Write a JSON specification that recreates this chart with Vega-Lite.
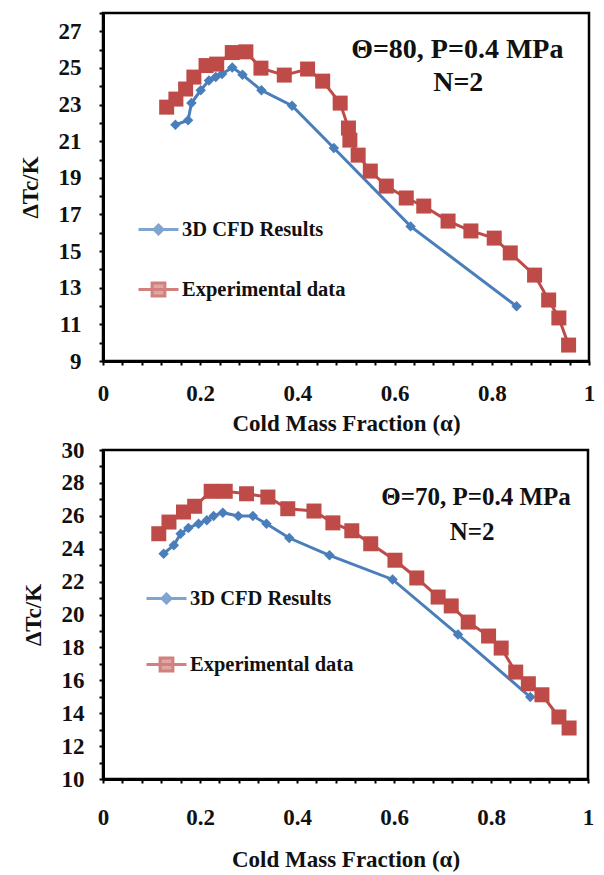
{
  "$schema": "https://vega.github.io/schema/vega-lite/v6.json",
  "background": "white",
  "padding": {"left": 17, "top": 10, "right": 12, "bottom": 5},
  "spacing": 0,
  "config": {
    "view": {"stroke": "black", "strokeWidth": 2.5},
    "font": "Liberation Serif",
    "axis": {
      "grid": false,
      "domain": true,
      "domainColor": "#000000",
      "domainWidth": 3,
      "ticks": true,
      "offset": 0,
      "tickSize": 4,
      "tickColor": "#000000",
      "tickOpacity": 1,
      "tickWidth": 2,
      "labelFont": "Liberation Serif",
      "labelFontWeight": "bold",
      "labelColor": "#111111",
      "titleFont": "Liberation Serif",
      "titleFontWeight": "bold",
      "titleFontSize": 23,
      "titleColor": "#111111",
      "labelFlush": false,
      "labelOverlap": false
    },
    "legend": {
      "orient": "none",
      "labelFont": "Liberation Serif",
      "labelFontWeight": "bold",
      "labelFontSize": 20.5,
      "labelColor": "#111111",
      "labelLimit": 300,
      "symbolSize": 1600,
      "symbolStrokeWidth": 3,
      "padding": 0,
      "labelOffset": 2
    }
  },
  "datasets": {
    "top": [
      {"a": 0.149, "dt": 21.9, "series": "3D CFD Results"},
      {"a": 0.175, "dt": 22.14, "series": "3D CFD Results"},
      {"a": 0.182, "dt": 23.08, "series": "3D CFD Results"},
      {"a": 0.201, "dt": 23.78, "series": "3D CFD Results"},
      {"a": 0.218, "dt": 24.32, "series": "3D CFD Results"},
      {"a": 0.232, "dt": 24.5, "series": "3D CFD Results"},
      {"a": 0.245, "dt": 24.67, "series": "3D CFD Results"},
      {"a": 0.266, "dt": 25.03, "series": "3D CFD Results"},
      {"a": 0.287, "dt": 24.63, "series": "3D CFD Results"},
      {"a": 0.326, "dt": 23.78, "series": "3D CFD Results"},
      {"a": 0.389, "dt": 22.94, "series": "3D CFD Results"},
      {"a": 0.475, "dt": 20.63, "series": "3D CFD Results"},
      {"a": 0.633, "dt": 16.35, "series": "3D CFD Results"},
      {"a": 0.851, "dt": 11.99, "series": "3D CFD Results"},
      {"a": 0.131, "dt": 22.86, "series": "Experimental data"},
      {"a": 0.150, "dt": 23.3, "series": "Experimental data"},
      {"a": 0.170, "dt": 23.85, "series": "Experimental data"},
      {"a": 0.187, "dt": 24.5, "series": "Experimental data"},
      {"a": 0.212, "dt": 25.13, "series": "Experimental data"},
      {"a": 0.234, "dt": 25.21, "series": "Experimental data"},
      {"a": 0.266, "dt": 25.84, "series": "Experimental data"},
      {"a": 0.294, "dt": 25.88, "series": "Experimental data"},
      {"a": 0.325, "dt": 24.99, "series": "Experimental data"},
      {"a": 0.373, "dt": 24.61, "series": "Experimental data"},
      {"a": 0.421, "dt": 24.94, "series": "Experimental data"},
      {"a": 0.452, "dt": 24.28, "series": "Experimental data"},
      {"a": 0.488, "dt": 23.08, "series": "Experimental data"},
      {"a": 0.505, "dt": 21.72, "series": "Experimental data"},
      {"a": 0.508, "dt": 21.06, "series": "Experimental data"},
      {"a": 0.525, "dt": 20.24, "series": "Experimental data"},
      {"a": 0.550, "dt": 19.37, "series": "Experimental data"},
      {"a": 0.583, "dt": 18.55, "series": "Experimental data"},
      {"a": 0.624, "dt": 17.9, "series": "Experimental data"},
      {"a": 0.660, "dt": 17.46, "series": "Experimental data"},
      {"a": 0.710, "dt": 16.64, "series": "Experimental data"},
      {"a": 0.757, "dt": 16.1, "series": "Experimental data"},
      {"a": 0.805, "dt": 15.71, "series": "Experimental data"},
      {"a": 0.838, "dt": 14.9, "series": "Experimental data"},
      {"a": 0.888, "dt": 13.69, "series": "Experimental data"},
      {"a": 0.917, "dt": 12.33, "series": "Experimental data"},
      {"a": 0.938, "dt": 11.35, "series": "Experimental data"},
      {"a": 0.958, "dt": 9.87, "series": "Experimental data"}
    ],
    "bottom": [
      {"a": 0.125, "dt": 23.7, "series": "3D CFD Results"},
      {"a": 0.146, "dt": 24.21, "series": "3D CFD Results"},
      {"a": 0.160, "dt": 24.91, "series": "3D CFD Results"},
      {"a": 0.176, "dt": 25.26, "series": "3D CFD Results"},
      {"a": 0.197, "dt": 25.52, "series": "3D CFD Results"},
      {"a": 0.214, "dt": 25.73, "series": "3D CFD Results"},
      {"a": 0.228, "dt": 25.99, "series": "3D CFD Results"},
      {"a": 0.247, "dt": 26.19, "series": "3D CFD Results"},
      {"a": 0.279, "dt": 25.99, "series": "3D CFD Results"},
      {"a": 0.309, "dt": 25.99, "series": "3D CFD Results"},
      {"a": 0.337, "dt": 25.52, "series": "3D CFD Results"},
      {"a": 0.384, "dt": 24.65, "series": "3D CFD Results"},
      {"a": 0.467, "dt": 23.6, "series": "3D CFD Results"},
      {"a": 0.597, "dt": 22.13, "series": "3D CFD Results"},
      {"a": 0.732, "dt": 18.78, "series": "3D CFD Results"},
      {"a": 0.881, "dt": 14.98, "series": "3D CFD Results"},
      {"a": 0.115, "dt": 24.91, "series": "Experimental data"},
      {"a": 0.136, "dt": 25.62, "series": "Experimental data"},
      {"a": 0.166, "dt": 26.23, "series": "Experimental data"},
      {"a": 0.189, "dt": 26.58, "series": "Experimental data"},
      {"a": 0.223, "dt": 27.49, "series": "Experimental data"},
      {"a": 0.252, "dt": 27.49, "series": "Experimental data"},
      {"a": 0.296, "dt": 27.34, "series": "Experimental data"},
      {"a": 0.340, "dt": 27.14, "series": "Experimental data"},
      {"a": 0.381, "dt": 26.43, "series": "Experimental data"},
      {"a": 0.435, "dt": 26.29, "series": "Experimental data"},
      {"a": 0.474, "dt": 25.57, "series": "Experimental data"},
      {"a": 0.513, "dt": 25.09, "series": "Experimental data"},
      {"a": 0.552, "dt": 24.3, "series": "Experimental data"},
      {"a": 0.602, "dt": 23.3, "series": "Experimental data"},
      {"a": 0.647, "dt": 22.22, "series": "Experimental data"},
      {"a": 0.691, "dt": 21.06, "series": "Experimental data"},
      {"a": 0.718, "dt": 20.52, "series": "Experimental data"},
      {"a": 0.753, "dt": 19.54, "series": "Experimental data"},
      {"a": 0.795, "dt": 18.69, "series": "Experimental data"},
      {"a": 0.821, "dt": 17.96, "series": "Experimental data"},
      {"a": 0.851, "dt": 16.5, "series": "Experimental data"},
      {"a": 0.877, "dt": 15.79, "series": "Experimental data"},
      {"a": 0.905, "dt": 15.12, "series": "Experimental data"},
      {"a": 0.940, "dt": 13.77, "series": "Experimental data"},
      {"a": 0.961, "dt": 13.1, "series": "Experimental data"}
    ]
  },
  "vconcat": [
    {
      "width": 486,
      "height": 348,
      "data": {"name": "top"},
      "layer": [
        {
          "mark": {"type": "line", "strokeWidth": 3},
          "encoding": {
            "x": {
              "field": "a", "type": "quantitative",
              "scale": {"domain": [0, 1], "nice": false},
              "axis": {
                "title": "Cold Mass Fraction (α)",
                "values": [0, 0.04, 0.08, 0.12, 0.16, 0.2, 0.24, 0.28, 0.32, 0.36, 0.4, 0.44, 0.48, 0.52, 0.56, 0.6, 0.64, 0.68, 0.72, 0.76, 0.8, 0.84, 0.88, 0.92, 0.96, 1],
                "tickCount": 30,
                "format": ".1~f",
                "labelOverlap": false,
                "labelExpr": "abs(datum.value*5 - round(datum.value*5)) < 0.001 ? datum.label : ''",
                "labelFontSize": {"condition": {"test": "abs(datum.value*5 - round(datum.value*5)) < 0.001", "value": 23}, "value": 0},
                "labelPadding": 17,
                "titlePadding": 7
              }
            },
            "y": {
              "field": "dt", "type": "quantitative",
              "scale": {"domain": [9, 28], "nice": false, "zero": false},
              "axis": {
                "title": "ΔTc/K",
                "tickCount": 95,
                "format": "d",
                "labelOverlap": false,
                "labelExpr": "round(datum.value*5) % 10 == 5 ? datum.label : ''",
                "labelFontSize": {"condition": {"test": "round(datum.value*5) % 10 == 5", "value": 23}, "value": 0},
                "labelPadding": 18,
                "titlePadding": 16
              }
            },
            "color": {
              "field": "series", "type": "nominal",
              "scale": {"domain": ["3D CFD Results", "Experimental data"], "range": ["#4a7ebb", "#be4b48"]},
              "legend": null
            }
          }
        },
        {
          "mark": {"type": "point", "filled": true, "opacity": 1},
          "encoding": {
            "x": {"field": "a", "type": "quantitative"},
            "y": {"field": "dt", "type": "quantitative"},
            "color": {"field": "series", "type": "nominal", "legend": null},
            "shape": {
              "field": "series", "type": "nominal",
              "scale": {"domain": ["3D CFD Results", "Experimental data"], "range": ["diamond", "square"]},
              "legend": null
            },
            "size": {
              "field": "series", "type": "nominal",
              "scale": {"domain": ["3D CFD Results", "Experimental data"], "range": [110, 225]},
              "legend": null
            }
          }
        },
        {
          "transform": [{"filter": "false"}],
          "mark": {"type": "point", "filled": true},
          "encoding": {
            "x": {"field": "a", "type": "quantitative"},
            "y": {"field": "dt", "type": "quantitative"},
            "fill": {
              "field": "series", "type": "nominal",
              "scale": {"domain": ["3D CFD Results", "Experimental data"], "range": ["#4a7ebb", "#be4b48"]},
              "legend": {"title": null, "legendX": 34, "legendY": 195, "rowPadding": 28}
            },
            "stroke": {
              "field": "series", "type": "nominal",
              "scale": {"domain": ["3D CFD Results", "Experimental data"], "range": ["#4a7ebb", "#be4b48"]},
              "legend": {"title": null, "legendX": 34, "legendY": 195, "rowPadding": 28}
            },
            "shape": {
              "field": "series", "type": "nominal",
              "scale": {"domain": ["3D CFD Results", "Experimental data"], "range": ["M-1,0H1M0,-0.22L0.22,0L0,0.22L-0.22,0Z", "M-1,0H1M-0.32,-0.32H0.32V0.32H-0.32Z"]},
              "legend": {"title": null, "legendX": 34, "legendY": 195, "rowPadding": 28}
            }
          }
        },
        {
          "data": {"values": [{}]},
          "mark": {"type": "text", "font": "Liberation Serif", "fontWeight": "bold", "fontSize": 28, "color": "#111111", "align": "center", "baseline": "middle"},
          "encoding": {
            "x": {"datum": 0.729},
            "y": {"datum": 25.98},
            "text": {"value": "Θ=80, P=0.4 MPa"}
          }
        },
        {
          "data": {"values": [{}]},
          "mark": {"type": "text", "font": "Liberation Serif", "fontWeight": "bold", "fontSize": 28, "color": "#111111", "align": "center", "baseline": "middle"},
          "encoding": {
            "x": {"datum": 0.731},
            "y": {"datum": 24.17},
            "text": {"value": "N=2"}
          }
        }
      ],
      "resolve": {"scale": {"shape": "independent", "fill": "independent", "stroke": "independent"}}
    },
    {
      "width": 485,
      "height": 329,
      "data": {"name": "bottom"},
      "layer": [
        {
          "mark": {"type": "line", "strokeWidth": 3},
          "encoding": {
            "x": {
              "field": "a", "type": "quantitative",
              "scale": {"domain": [0, 1], "nice": false},
              "axis": {
                "title": "Cold Mass Fraction (α)",
                "values": [0, 0.04, 0.08, 0.12, 0.16, 0.2, 0.24, 0.28, 0.32, 0.36, 0.4, 0.44, 0.48, 0.52, 0.56, 0.6, 0.64, 0.68, 0.72, 0.76, 0.8, 0.84, 0.88, 0.92, 0.96, 1],
                "tickCount": 30,
                "format": ".1~f",
                "labelOverlap": false,
                "labelExpr": "abs(datum.value*5 - round(datum.value*5)) < 0.001 ? datum.label : ''",
                "labelFontSize": {"condition": {"test": "abs(datum.value*5 - round(datum.value*5)) < 0.001", "value": 23}, "value": 0},
                "labelPadding": 23,
                "titlePadding": 19
              }
            },
            "y": {
              "field": "dt", "type": "quantitative",
              "scale": {"domain": [10, 30], "nice": false, "zero": false},
              "axis": {
                "title": "ΔTc/K",
                "tickCount": 100,
                "format": "d",
                "labelOverlap": false,
                "labelExpr": "round(datum.value*5) % 10 == 0 ? datum.label : ''",
                "labelFontSize": {"condition": {"test": "round(datum.value*5) % 10 == 0", "value": 23}, "value": 0},
                "labelPadding": 15,
                "titlePadding": 16
              }
            },
            "color": {
              "field": "series", "type": "nominal",
              "scale": {"domain": ["3D CFD Results", "Experimental data"], "range": ["#4a7ebb", "#be4b48"]},
              "legend": null
            }
          }
        },
        {
          "mark": {"type": "point", "filled": true, "opacity": 1},
          "encoding": {
            "x": {"field": "a", "type": "quantitative"},
            "y": {"field": "dt", "type": "quantitative"},
            "color": {"field": "series", "type": "nominal", "legend": null},
            "shape": {
              "field": "series", "type": "nominal",
              "scale": {"domain": ["3D CFD Results", "Experimental data"], "range": ["diamond", "square"]},
              "legend": null
            },
            "size": {
              "field": "series", "type": "nominal",
              "scale": {"domain": ["3D CFD Results", "Experimental data"], "range": [110, 225]},
              "legend": null
            }
          }
        },
        {
          "transform": [{"filter": "false"}],
          "mark": {"type": "point", "filled": true},
          "encoding": {
            "x": {"field": "a", "type": "quantitative"},
            "y": {"field": "dt", "type": "quantitative"},
            "fill": {
              "field": "series", "type": "nominal",
              "scale": {"domain": ["3D CFD Results", "Experimental data"], "range": ["#4a7ebb", "#be4b48"]},
              "legend": {"title": null, "legendX": 42, "legendY": 127, "rowPadding": 34}
            },
            "stroke": {
              "field": "series", "type": "nominal",
              "scale": {"domain": ["3D CFD Results", "Experimental data"], "range": ["#4a7ebb", "#be4b48"]},
              "legend": {"title": null, "legendX": 42, "legendY": 127, "rowPadding": 34}
            },
            "shape": {
              "field": "series", "type": "nominal",
              "scale": {"domain": ["3D CFD Results", "Experimental data"], "range": ["M-1,0H1M0,-0.22L0.22,0L0,0.22L-0.22,0Z", "M-1,0H1M-0.32,-0.32H0.32V0.32H-0.32Z"]},
              "legend": {"title": null, "legendX": 42, "legendY": 127, "rowPadding": 34}
            }
          }
        },
        {
          "data": {"values": [{}]},
          "mark": {"type": "text", "font": "Liberation Serif", "fontWeight": "bold", "fontSize": 25, "color": "#111111", "align": "center", "baseline": "middle"},
          "encoding": {
            "x": {"datum": 0.769},
            "y": {"datum": 27.14},
            "text": {"value": "Θ=70, P=0.4 MPa"}
          }
        },
        {
          "data": {"values": [{}]},
          "mark": {"type": "text", "font": "Liberation Serif", "fontWeight": "bold", "fontSize": 25, "color": "#111111", "align": "center", "baseline": "middle"},
          "encoding": {
            "x": {"datum": 0.761},
            "y": {"datum": 25.02},
            "text": {"value": "N=2"}
          }
        }
      ],
      "resolve": {"scale": {"shape": "independent", "fill": "independent", "stroke": "independent"}}
    }
  ]
}
